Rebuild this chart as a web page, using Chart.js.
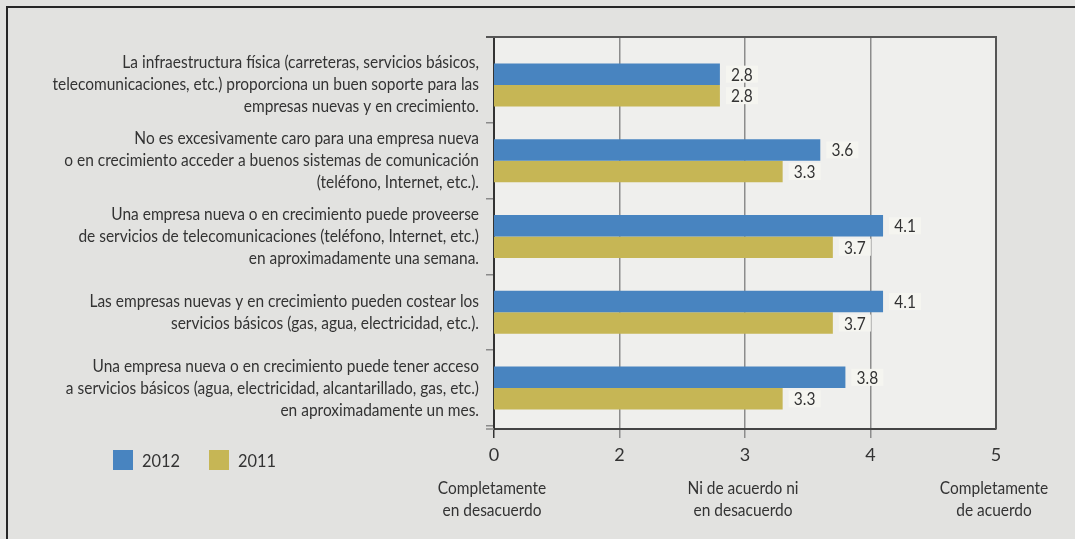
<!DOCTYPE html>
<html>
<head>
<meta charset="utf-8">
<script src="https://cdn.jsdelivr.net/npm/chart.js@4/dist/chart.umd.min.js"></script>
<style>
  html, body { margin: 0; padding: 0; background: #e2e2e0; overflow: hidden; }
  canvas { display: block; }
</style>
</head>
<body>
<canvas id="c" width="1075" height="539"></canvas>
<script>
// Survey statements (one entry per bar group, already broken into lines)
const categories = [
  ['La infraestructura física (carreteras, servicios básicos,',
   'telecomunicaciones, etc.) proporciona un buen soporte para las',
   'empresas nuevas y en crecimiento.'],
  ['No es excesivamente caro para una empresa nueva',
   'o en crecimiento acceder a buenos sistemas de comunicación',
   '(teléfono, Internet, etc.).'],
  ['Una empresa nueva o en crecimiento puede proveerse',
   'de servicios de telecomunicaciones (teléfono, Internet, etc.)',
   'en aproximadamente una semana.'],
  ['Las empresas nuevas y en crecimiento pueden costear los',
   'servicios básicos (gas, agua, electricidad, etc.).'],
  ['Una empresa nueva o en crecimiento puede tener acceso',
   'a servicios básicos (agua, electricidad, alcantarillado, gas, etc.)',
   'en aproximadamente un mes.']
];

const seriesNames = ['2012', '2011'];
const values2012 = [2.8, 3.6, 4.1, 4.1, 3.8];
const values2011 = [2.8, 3.3, 3.7, 3.7, 3.3];

// Agreement scale: positions on the axis and the labels printed under them
const tickValues = [1, 2, 3, 4, 5];
const tickLabels = ['0', '2', '3', '4', '5'];
const scaleAnchors = [
  { value: 1, lines: ['Completamente', 'en desacuerdo'] },
  { value: 3, lines: ['Ni de acuerdo ni', 'en desacuerdo'] },
  { value: 5, lines: ['Completamente', 'de acuerdo'] }
];

const FONT = "Lato, 'Open Sans', sans-serif";
const TEXT = '#333333';
const COLORS = ['#4884c0', '#c6b655'];
const SQUEEZE = 0.91;       // horizontal condensing of the text
const BAND_INSET_TOP = 10;  // empty strip above the first bar group
const BAND_INSET_BOTTOM = 3;

// Draws text horizontally condensed around its anchor point
function condensedText(ctx, txt, x, y) {
  ctx.save();
  ctx.translate(x, y);
  ctx.scale(SQUEEZE, 1);
  ctx.fillText(txt, 0, 0);
  ctx.restore();
}

// Insets the category bands inside the plot area
const bandPlugin = {
  id: 'bandInset',
  afterLayout(chart) {
    const y = chart.scales.y;
    const start = y.top + BAND_INSET_TOP;
    y._startPixel = start;
    y._length = y.bottom - BAND_INSET_BOTTOM - start;
  }
};

// Page frame, plot background and plot borders
const framePlugin = {
  id: 'frame',
  beforeDraw(chart) {
    const { ctx, chartArea: a, width, height } = chart;
    ctx.save();
    ctx.fillStyle = '#e2e2e0';
    ctx.fillRect(0, 0, width, height);
    ctx.fillStyle = '#262626';
    ctx.fillRect(6, 6, 2, height - 6);
    ctx.fillRect(6, 6, width - 6, 2);
    ctx.fillStyle = '#efefed';
    ctx.fillRect(a.left, a.top, a.right - a.left, a.bottom - a.top);
    ctx.restore();
  },
  afterDraw(chart) {
    const { ctx, chartArea: a } = chart;
    ctx.save();
    ctx.strokeStyle = '#555555';
    ctx.lineWidth = 2;
    ctx.beginPath();
    ctx.moveTo(a.left - 8, a.top);
    ctx.lineTo(a.right, a.top);
    ctx.lineTo(a.right, a.bottom);
    ctx.stroke();
    // small tick marking the lower edge of the last band
    ctx.strokeStyle = '#8a8a8a';
    ctx.lineWidth = 1.5;
    ctx.beginPath();
    ctx.moveTo(a.left - 8, a.bottom);
    ctx.lineTo(a.left, a.bottom);
    ctx.stroke();
    ctx.restore();
  }
};

// Category statements, right-aligned against the axis
const categoryLabelPlugin = {
  id: 'categoryLabels',
  afterDraw(chart) {
    const { ctx } = chart;
    const ys = chart.scales.y;
    const right = ys.right - 15;
    const lh = 22;
    ctx.save();
    ctx.font = '17px ' + FONT;
    ctx.fillStyle = TEXT;
    ctx.textAlign = 'right';
    ctx.textBaseline = 'middle';
    chart.data.labels.forEach((lines, i) => {
      const cy = ys.getPixelForTick(i);
      const y0 = cy - (lines.length - 1) * lh / 2;
      lines.forEach((line, k) => condensedText(ctx, line, right, y0 + k * lh));
    });
    ctx.restore();
  }
};

// Value boxes at the end of each bar
const valueLabelPlugin = {
  id: 'valueLabels',
  afterDatasetsDraw(chart) {
    const { ctx } = chart;
    ctx.save();
    ctx.font = '17px ' + FONT;
    ctx.textAlign = 'center';
    ctx.textBaseline = 'middle';
    chart.data.datasets.forEach((ds, i) => {
      const meta = chart.getDatasetMeta(i);
      meta.data.forEach((bar, j) => {
        const txt = ds.data[j].toFixed(1);
        const w = 32;
        const h = 17;
        const x0 = bar.x + 6;
        ctx.fillStyle = '#f5f5f0';
        ctx.fillRect(x0, bar.y - h / 2, w, h);
        ctx.fillStyle = TEXT;
        condensedText(ctx, txt, x0 + w / 2, bar.y + 1);
      });
    });
    ctx.restore();
  }
};

// Legend squares and the verbal anchors of the agreement scale
const annotationPlugin = {
  id: 'annotations',
  afterDraw(chart) {
    const { ctx } = chart;
    const xs = chart.scales.x;
    ctx.save();
    ctx.font = '18px ' + FONT;
    ctx.textBaseline = 'middle';

    let lx = 113;
    const ly = 460;
    chart.data.datasets.forEach(ds => {
      ctx.fillStyle = ds.backgroundColor;
      ctx.fillRect(lx, ly - 10, 20, 20);
      ctx.fillStyle = TEXT;
      ctx.textAlign = 'left';
      condensedText(ctx, ds.label, lx + 29, ly + 1);
      lx += 96;
    });

    ctx.font = '17px ' + FONT;
    ctx.textAlign = 'center';
    scaleAnchors.forEach(anchor => {
      const x = xs.getPixelForValue(anchor.value);
      anchor.lines.forEach((line, k) => condensedText(ctx, line, x - 2, 489 + k * 22));
    });
    ctx.restore();
  }
};

new Chart(document.getElementById('c'), {
  type: 'bar',
  data: {
    labels: categories,
    datasets: [
      { label: seriesNames[0], data: values2012, backgroundColor: COLORS[0] },
      { label: seriesNames[1], data: values2011, backgroundColor: COLORS[1] }
    ]
  },
  options: {
    indexAxis: 'y',
    responsive: false,
    animation: false,
    devicePixelRatio: 1,
    categoryPercentage: 0.567,
    barPercentage: 1.0,
    layout: { padding: { left: 0, top: 37, right: 79, bottom: 0 } },
    plugins: {
      legend: { display: false },
      tooltip: { enabled: false }
    },
    scales: {
      x: {
        type: 'linear',
        min: tickValues[0],
        max: tickValues[tickValues.length - 1],
        afterBuildTicks(scale) {
          scale.ticks = tickValues.map(v => ({ value: v }));
        },
        afterFit(scale) { scale.height = 110; },
        ticks: {
          padding: 6,
          color: TEXT,
          font: { family: FONT, size: 18 },
          callback: (v, i) => tickLabels[i]
        },
        grid: {
          drawOnChartArea: true,
          tickLength: 9,
          lineWidth: 1.5,
          color: ctx => {
            const v = ctx.tick && ctx.tick.value;
            if (v === tickValues[0]) return '#333333';
            if (v === tickValues[tickValues.length - 1]) return 'rgba(0,0,0,0)';
            return '#8c8c8c';
          }
        },
        border: { color: '#444444', width: 2 }
      },
      y: {
        afterFit(scale) {
          scale.width = 494;
          scale.paddingTop = 0;
          scale.paddingBottom = 0;
        },
        ticks: { display: false },
        grid: {
          offset: true,
          drawOnChartArea: false,
          drawTicks: true,
          tickLength: 8,
          lineWidth: 1.5,
          color: ctx => (ctx.index === 0 || ctx.index === categories.length ? 'rgba(0,0,0,0)' : '#8a8a8a')
        },
        border: { color: '#333333', width: 2 }
      }
    }
  },
  plugins: [bandPlugin, framePlugin, valueLabelPlugin, categoryLabelPlugin, annotationPlugin]
});
</script>
</body>
</html>
